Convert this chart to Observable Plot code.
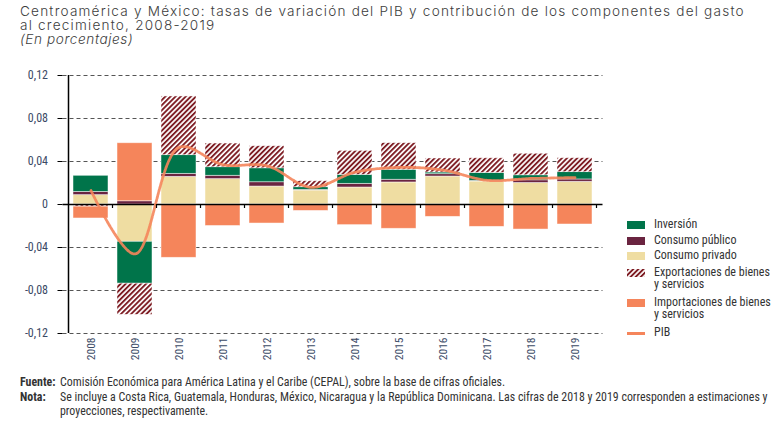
<!DOCTYPE html>
<html>
<head>
<meta charset="utf-8">
<script src="https://cdn.jsdelivr.net/npm/d3@7"></script>
<script src="https://cdn.jsdelivr.net/npm/@observablehq/plot@0.6"></script>
<style>
  body { margin: 0; background: #fff; }
  #wrap { position: relative; width: 781px; height: 425px; overflow: hidden; }
  .cond { font-family: "Roboto Condensed", "Liberation Sans Narrow", "DejaVu Sans Condensed", "Arial Narrow", sans-serif; font-stretch: condensed; }
  .tl { position: absolute; left: 20px; font-family: Inter, "Open Sans", Lato, sans-serif; font-weight: 300; font-size: 13.6px; line-height: 14px; letter-spacing: 1.2px; color: #3d3d3d; white-space: nowrap; }
  .tl.sub { font-style: italic; letter-spacing: 0.6px; }
  #chart { position: absolute; left: 0; top: 62px; }
  #legend { position: absolute; left: 627px; top: 221px; font-size: 12px; color: #333; }
  .li { position: absolute; left: 0; white-space: nowrap; }
  .sw { position: absolute; left: 0; width: 18px; height: 8px; }
  .lt { position: absolute; left: 27px; line-height: 11.5px; }
  #foot { position: absolute; left: 20px; top: 375px; font-size: 11.9px; color: #333; line-height: 14.5px; }
  #foot .lab { position: absolute; left: 0; font-weight: bold; }
  #foot .txt { position: absolute; left: 40px; white-space: nowrap; }
</style>
</head>
<body>
<div id="wrap">
  <div class="tl" style="top:4px">Centroamérica y México: tasas de variación del PIB y contribución de los componentes del gasto</div>
  <div class="tl" style="top:17.5px">al crecimiento, 2008-2019</div>
  <div class="tl sub" style="top:32px">(En porcentajes)</div>
  <div id="chart"></div>
  <div id="legend" class="cond"></div>
  <div id="foot" class="cond">
    <div class="lab" style="top:0">Fuente:</div>
    <div class="txt" style="top:0">Comisión Económica para América Latina y el Caribe (CEPAL), sobre la base de cifras oficiales.</div>
    <div class="lab" style="top:14.5px">Nota:</div>
    <div class="txt" style="top:14.5px">Se incluye a Costa Rica, Guatemala, Honduras, México, Nicaragua y la República Dominicana. Las cifras de 2018 y 2019 corresponden a estimaciones y<br>proyecciones, respectivamente.</div>
  </div>
</div>
<script>
const years = ["2008","2009","2010","2011","2012","2013","2014","2015","2016","2017","2018","2019"];
const inversion      = [0.015, -0.039, 0.0174, 0.008, 0.013, 0.0025, 0.0084, 0.0093, 0.0016, 0.0074, 0.0047, 0.0068];
const consumoPublico = [0.003, 0.003, 0.0028, 0.0031, 0.004, 0.0006, 0.0034, 0.0025, 0.0022, 0.0006, 0.0025, 0.0022];
const consumoPrivado = [0.0087, -0.0347, 0.0257, 0.0236, 0.0167, 0.013, 0.0158, 0.0205, 0.026, 0.0214, 0.020, 0.0211];
const exportaciones  = [-0.002, -0.029, 0.0546, 0.022, 0.0205, 0.0056, 0.0223, 0.0248, 0.013, 0.0136, 0.020, 0.013];
const importaciones  = [-0.011, 0.054, -0.0496, -0.020, -0.0177, -0.006, -0.0192, -0.0226, -0.0115, -0.0208, -0.0233, -0.0186];
const pib            = [0.013, -0.046, 0.053, 0.037, 0.036, 0.016, 0.030, 0.0345, 0.032, 0.0225, 0.0242, 0.025];
const yTicks = [-0.12, -0.08, -0.04, 0, 0.04, 0.08, 0.12];

const seriesNames = ["Consumo privado", "Consumo público", "Inversión", "Exportaciones de bienes y servicios", "Importaciones de bienes y servicios"];
const seriesValues = [consumoPrivado, consumoPublico, inversion, exportaciones, importaciones];
const seriesColors = ["#efdda2", "#6a2440", "#00744a", "url(#hatch)", "#f5855b"];

const rows = [];
seriesNames.forEach((s, i) => years.forEach((y, j) => rows.push({year: y, serie: s, value: seriesValues[i][j]})));
const pibRows = years.map((y, j) => ({year: y, value: pib[j]}));

const fmt = d => d === 0 ? "0" : d.toFixed(2).replace(".", ",");
const condFont = '"Roboto Condensed", "Liberation Sans Narrow", "DejaVu Sans Condensed", "Arial Narrow", sans-serif';

const chart = Plot.plot({
  width: 781,
  height: 310,
  marginLeft: 62.5,
  marginRight: 178.5,
  marginTop: 13,
  marginBottom: 39,
  style: {fontFamily: condFont, fontSize: "11.5px", color: "#3b4a66", background: "transparent"},
  x: {domain: years, padding: 0.2, label: null},
  y: {domain: [-0.12, 0.12], label: null},
  color: {domain: seriesNames, range: seriesColors},
  marks: [
    Plot.gridY(yTicks.filter(d => d !== 0), {stroke: "#555", strokeOpacity: 1, strokeDasharray: "4,3", strokeWidth: 1}),
    Plot.barY(rows, {x: "year", y: "value", fill: "serie", z: "serie", order: seriesNames, stroke: "#fff", strokeWidth: 0.8, strokeOpacity: 0.6}),
    Plot.ruleY([0], {stroke: "#000", strokeWidth: 1.5}),
    Plot.line(pibRows, {x: "year", y: "value", stroke: "#f5855b", strokeWidth: 2.8, strokeDasharray: "2.2,1.3", curve: "catmull-rom", strokeOpacity: 0.9}),
    Plot.axisY({ticks: yTicks, tickFormat: fmt, tickSize: 5, tickPadding: 10, stroke: "#000", fontSize: 12}),
    Plot.axisX({tickRotate: -90, tickSize: 0, tickPadding: 4, fontSize: 11.5})
  ]
});

// pattern definition for hatched exports
const svg = d3.select(chart.tagName.toLowerCase() === "svg" ? chart : chart.querySelector("svg"));
const defs = svg.insert("defs", ":first-child");
const pat = defs.append("pattern").attr("id", "hatch").attr("patternUnits", "userSpaceOnUse")
  .attr("width", 3.6).attr("height", 3.6).attr("patternTransform", "rotate(45)");
pat.append("rect").attr("width", 3.6).attr("height", 3.6).attr("fill", "#fff");
pat.append("rect").attr("width", 1.9).attr("height", 3.6).attr("fill", "#7e1d24");

// y-axis line and band-boundary ticks on zero line, from the scales
const xs = chart.scale("x"), ys = chart.scale("y");
const y0 = ys.apply(0), yTop = ys.apply(0.12), yBot = ys.apply(-0.12);
const step = xs.apply(years[1]) - xs.apply(years[0]);
const bw = xs.bandwidth;
const bounds = years.map(y => xs.apply(y) - (step - bw) / 2);
bounds.push(bounds[bounds.length - 1] + step);
const g = svg.append("g");
g.append("line").attr("x1", bounds[0]).attr("x2", bounds[0]).attr("y1", yTop).attr("y2", yBot).attr("stroke", "#000").attr("stroke-width", 1.5);
bounds.slice(1).forEach(x => {
  g.append("line").attr("x1", x).attr("x2", x).attr("y1", y0).attr("y2", y0 + 4).attr("stroke", "#000").attr("stroke-width", 1.2);
});
document.getElementById("chart").appendChild(chart);

// legend
const legendItems = [
  {label: "Inversión", fill: "#00744a", top: 0, kind: "box"},
  {label: "Consumo público", fill: "#6a2440", top: 16, kind: "box"},
  {label: "Consumo privado", fill: "#efdda2", top: 31, kind: "box"},
  {label: "Exportaciones de bienes<br>y servicios", fill: "hatch", top: 48, kind: "hatch"},
  {label: "Importaciones de bienes<br>y servicios", fill: "#f5855b", top: 78, kind: "box"},
  {label: "PIB", fill: "#f5855b", top: 108, kind: "line"}
];
const leg = document.getElementById("legend");
legendItems.forEach(it => {
  const d = document.createElement("div");
  d.className = "li";
  d.style.top = it.top + "px";
  let sw;
  if (it.kind === "box") sw = `<div class="sw" style="top:0;background:${it.fill}"></div>`;
  else if (it.kind === "line") sw = `<div class="sw" style="top:3px;height:3px;background:${it.fill}"></div>`;
  else sw = `<svg class="sw" style="top:0" width="18" height="8"><defs><pattern id="hatchL" patternUnits="userSpaceOnUse" width="3.6" height="3.6" patternTransform="rotate(45)"><rect width="3.6" height="3.6" fill="#fff"/><rect width="1.9" height="3.6" fill="#7e1d24"/></pattern></defs><rect width="18" height="8" fill="url(#hatchL)"/></svg>`;
  d.innerHTML = sw + `<div class="lt" style="top:-2px">${it.label}</div>`;
  leg.appendChild(d);
});
</script>
</body>
</html>
